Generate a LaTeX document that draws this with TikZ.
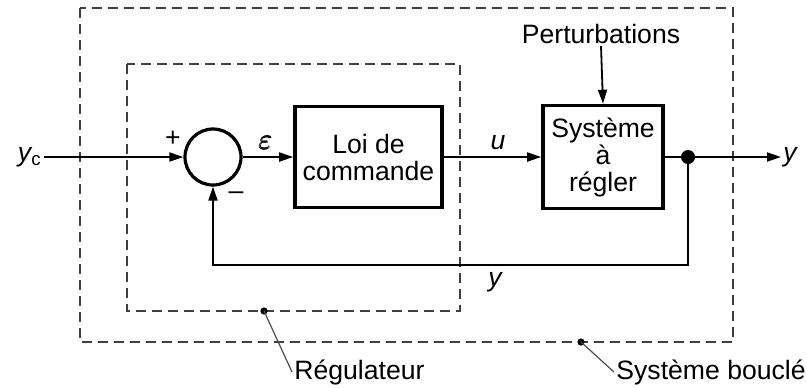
\documentclass[tikz,border=0pt]{standalone}
\usepackage{amsmath}
\usepackage{fontspec}
\setmainfont{Liberation Sans}
\setsansfont{Liberation Sans}
\usetikzlibrary{arrows.meta,positioning}
\tikzset{
  block/.style={draw, line width=1.8pt, fill=white, align=center,
    font=\fontsize{13.3}{13.5}\selectfont},
  sum/.style={draw, circle, line width=1.6pt, minimum size=28pt, inner sep=0pt},
  flow/.style={draw, line width=0.9pt, -{Triangle[length=7pt,width=4.5pt]}},
  link/.style={draw, line width=0.9pt},
  area/.style={draw=black!75, line width=0.8pt, dash pattern=on 5pt off 3pt},
  leader/.style={draw=black!70, line width=0.6pt},
  lbl/.style={font=\fontsize{13.3}{15}\selectfont, inner sep=1pt},
  sig/.style={font=\fontsize{13.3}{15}\selectfont\itshape, inner sep=1pt}
}
\begin{document}
\begin{tikzpicture}[x=0.5pt, y=-0.5pt]
  \useasboundingbox (0,0) rectangle (806,387);
  % cadres en pointill\'es
  \draw[area] (80,8) rectangle (733,342);
  \draw[area] (127,64) rectangle (460,311);
  % blocs
  \node[sum] (sum) at (213,157) {};
  \node[block, minimum width=73.5pt, minimum height=50.5pt] (loi) at (368.5,157) {Loi de\\commande};
  \node[block, minimum width=60pt, minimum height=51.5pt] (sys) at (603,157) {Syst\`eme\\\`a\\r\'egler};
  \node[lbl] (pert) at (601,34) {Perturbations};
  \node[sig, anchor=east] (yc) at (44,157) {y\textsubscript{\upshape c}};
  \coordinate (dot) at (688,157);
  \node[sig, anchor=west] (yout) at (781,157) {y};
  % liaisons
  \draw[flow] (yc.east) -- (sum.west);
  \draw[flow] (sum.east) -- (loi.west);
  \draw[flow] (loi.east) -- (sys.west);
  \draw[flow] (pert.south) -- (sys.north);
  \draw[link] (sys.east) -- (dot);
  \draw[flow] (dot) -- (yout.west);
  \draw[flow] (dot) -- ++(0,108) -| (sum.south);
  \fill (dot) circle (3.5pt);
  % \'etiquettes des signaux
  \node[lbl] (plus) at (173,139) {+};
  \node[lbl] (moins) at (236,196) {\textendash};
  \node[lbl, font=\fontsize{15}{15}\selectfont] (eps) at (266,143) {$\pmb{\varepsilon}$};
  \node[sig] (u) at (498,143) {u};
  \node[sig] (yfb) at (495,282) {y};
  % rep\`eres
  \fill (264,311) circle (1.8pt);
  \node[lbl, anchor=west] (reg) at (292,372) {R\'egulateur};
  \draw[leader] (264,311) -- (reg.west);
  \fill (581,342) circle (1.8pt);
  \node[lbl, anchor=west] (boucle) at (614,372) {Syst\`eme boucl\'e};
  \draw[leader] (581,342) -- (boucle.west);
\end{tikzpicture}
\end{document}
